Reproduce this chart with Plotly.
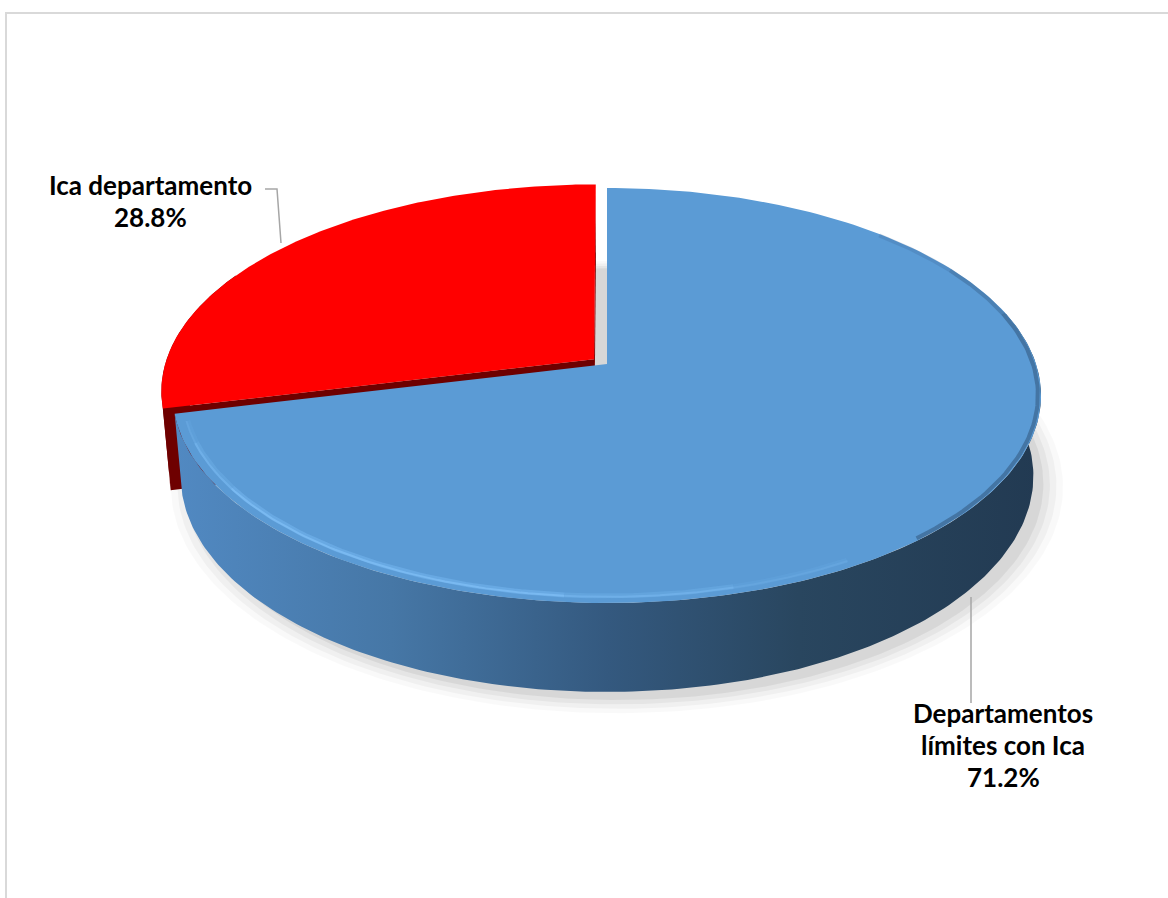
import numpy as np
import plotly.graph_objects as go

# ---------------- data ----------------
categories = ["Departamentos límites con Ica", "Ica departamento"]
label_lines = [["Departamentos", "límites con Ica"], ["Ica departamento"]]
values = [71.2, 28.8]
explode = [0.0, 0.0385]
top_colors = ["#5b9bd5", "#ff0000"]
side_colors = ["#4a7fb3", "#820000"]

# ---------------- projection (3D pie look) ----------------
W, Hpx = 1168, 898
alpha = np.deg2rad(28.2)
c, s = np.cos(alpha), np.sin(alpha)
D = 6.587 * c
F = 176 * (D + c) / s
CX, CY = 607.0, 364.0
DEPTH = 0.2148


def proj(X, Z, H):
    X = np.asarray(X, float); Z = np.asarray(Z, float); H = np.asarray(H, float)
    depth = D + Z * c - H * s
    return CX + F * X / depth, CY - F * (Z * s + H * c) / depth


total = sum(values)
angles = []
acc = 0.0
for v in values:
    a0 = acc / total * 360.0
    acc += v
    a1 = acc / total * 360.0
    angles.append((a0, a1))

fig = go.Figure()


def poly(x, y, fill, opacity=1.0):
    fig.add_trace(go.Scatter(
        x=list(x), y=list(y), mode="lines", fill="toself", fillcolor=fill,
        line=dict(width=0, color=fill), hoverinfo="skip", showlegend=False, opacity=opacity))


def line(x, y, color, width):
    fig.add_trace(go.Scatter(x=list(x), y=list(y), mode="lines", line=dict(color=color, width=width),
                             hoverinfo="skip", showlegend=False))


def offset(i):
    e = explode[i]
    m = np.deg2rad((angles[i][0] + angles[i][1]) / 2)
    return e * np.sin(m), e * np.cos(m)


def rim(i, a0, a1, H, r=1.0, n=200):
    ox, oz = offset(i)
    t = np.deg2rad(np.linspace(a0, a1, n))
    return proj(ox + r * np.sin(t), oz + r * np.cos(t), np.full(n, H))


def apex(i, H):
    ox, oz = offset(i)
    return proj(ox, oz, H)

# soft shadow
t = np.deg2rad(np.linspace(0, 360, 300))
for sc, op in [(1.045, 0.025), (1.03, 0.035), (1.015, 0.045), (1.0, 0.06)]:
    bx, by = proj(sc * np.sin(t), sc * np.cos(t), np.full(300, -DEPTH))
    poly(bx + 10, by + 8, "rgba(0,0,0,%.3f)" % op)

# ---- red slice (index 1) ----
i = 1
a0, a1 = angles[i]
tx, ty = rim(i, a0, min(a0 + 40, a1), 0)
bx, by = rim(i, a0, min(a0 + 40, a1), -DEPTH)
poly(np.concatenate([tx, bx[::-1]]), np.concatenate([ty, by[::-1]]), side_colors[i])
for a, col in [(a0, "#6e0000"), (a1, "#7a0000")]:
    ax_, ay_ = apex(i, 0)
    axb, ayb = apex(i, -DEPTH)
    rx, ry = rim(i, a, a, 0, n=1)
    rbx, rby = rim(i, a, a, -DEPTH, n=1)
    poly([ax_, rx[0], rbx[0], axb], [ay_, ry[0], rby[0], ayb], col)
tx, ty = rim(i, a0, a1, 0)
ax_, ay_ = apex(i, 0)
poly(np.concatenate([[ax_], tx, [ax_]]), np.concatenate([[ay_], ty, [ay_]]), top_colors[i])

# ---- blue slice (index 0) ----
i = 0
a0, a1 = angles[i]
tx, ty = rim(i, 75, a1, 0)
bx, by = rim(i, 75, a1, -DEPTH)
fig.add_trace(go.Scatter(
    x=list(np.concatenate([tx, bx[::-1]])), y=list(np.concatenate([ty, by[::-1]])),
    mode="lines", fill="toself", line=dict(width=0),
    fillgradient=dict(type="horizontal",
                      colorscale=[[0, "#5189c2"], [0.25, "#4677a6"], [0.5, "#34597f"],
                                  [0.72, "#29465f"], [1, "#223a52"]]),
    hoverinfo="skip", showlegend=False))
tx, ty = rim(i, a0, a1, 0)
ax_, ay_ = apex(i, 0)
poly(np.concatenate([[ax_], tx, [ax_]]), np.concatenate([[ay_], ty, [ay_]]), top_colors[i])

# bevel: dark edge on right, soft highlight on the front
for (p0, p1, op) in [(45, 60, 0.15), (60, 75, 0.3), (75, 140, 0.45)]:
    hx, hy = rim(i, p0, p1, 0, r=0.993, n=60)
    line(hx, hy, "rgba(40,70,105,%.2f)" % op, 4)
segs = [(150, 165, 0.12), (165, 185, 0.25), (185, 235, 0.4), (235, 248, 0.25), (248, 254, 0.12)]
for (p0, p1, op) in segs:
    hx, hy = rim(i, p0, p1, 0, r=0.975, n=60)
    line(hx, hy, "rgba(125,190,248,%.2f)" % op, 5)
    hx, hy = rim(i, p0, p1, 0, r=0.978, n=60)
    line(hx, hy, "rgba(135,198,252,%.2f)" % min(1, op * 1.4), 2)

# ---- leader lines ----
line([265, 277, 281], [189, 189, 243], "#a6a6a6", 1.5)
line([971, 971], [597, 703], "#a6a6a6", 1.5)

# ---- labels (one annotation per text line) ----
label_pos = [(1003, 713), (150, 185)]
LINE_H = 32
for lines, v, (lx, ly) in zip(label_lines, values, label_pos):
    for k, txt in enumerate(lines + ["%.1f%%" % v]):
        fig.add_annotation(x=lx, y=ly + k * LINE_H, xref="x", yref="y", showarrow=False,
                           text=txt,
                           font=dict(family="Lato", size=26, color="#000000", weight="bold"),
                           align="center", xanchor="center", yanchor="middle")

# ---- chart border ----
fig.add_shape(type="rect", xref="paper", yref="paper",
              x0=6 / W, x1=1.01, y0=-0.01, y1=1 - 13 / Hpx,
              line=dict(color="#d9d9d9", width=2), fillcolor="rgba(0,0,0,0)", layer="below")

fig.update_layout(
    width=W, height=Hpx, margin=dict(l=0, r=0, t=0, b=0),
    paper_bgcolor="white", plot_bgcolor="white",
    xaxis=dict(range=[0, W], visible=False, fixedrange=True),
    yaxis=dict(range=[Hpx, 0], visible=False, fixedrange=True),
    showlegend=False,
)

fig.write_html("out.html")
